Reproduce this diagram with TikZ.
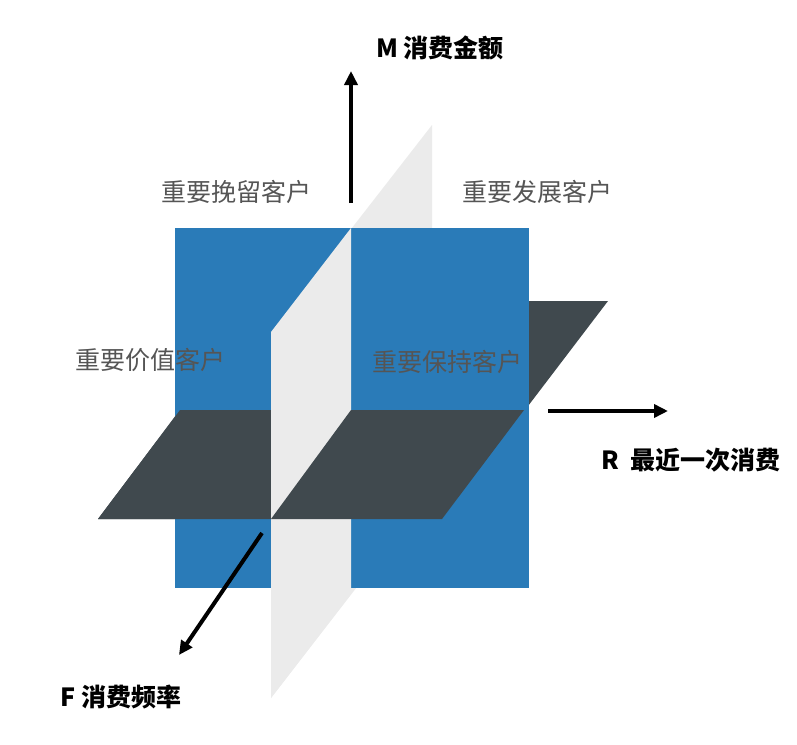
\documentclass[tikz,border=0pt]{standalone}
\usepackage{fontspec}
\setmainfont{Noto Sans CJK SC}
\usepackage{xcolor}
\usetikzlibrary{arrows.meta}

\definecolor{rfmblue}{HTML}{2A7BB8}
\definecolor{rfmdark}{HTML}{40494E}
\definecolor{rfmlight}{HTML}{EBEBEB}
\definecolor{rfmtext}{HTML}{555555}

\begin{document}
\begin{tikzpicture}[x=1pt, y=-1pt,
  axis/.style={-{Triangle[length=14pt,width=13pt]}, line width=4pt},
  axislabel/.style={font=\fontsize{25}{30}\selectfont\bfseries, inner sep=0pt},
  segment/.style={text=rfmtext, font=\fontsize{25}{30}\selectfont, inner sep=0pt},
]
  \useasboundingbox (0,0) rectangle (797,744);

  % planes, back to front
  \fill[rfmlight] (271,332) -- (432,125) -- (432,490) -- (271,698) -- cycle;
  \fill[rfmdark] (98,519) -- (442,519) -- (608,301) -- (262,301) -- cycle;
  \fill[rfmblue] (175,228) rectangle (529,588);
  \fill[rfmdark] (98,519) -- (180,410) -- (351,410) -- (271,519) -- cycle;
  \fill[rfmlight] (271,332) -- (351,228) -- (351,594) -- (271,698) -- cycle;
  \fill[rfmdark] (271,519) -- (351,410) -- (524,410) -- (442,519) -- cycle;

  % axes
  \coordinate (m-start) at (351,203);
  \coordinate (m-end) at (351,71);
  \coordinate (r-start) at (548,411);
  \coordinate (r-end) at (668,411);
  \coordinate (f-start) at (262,533);
  \coordinate (f-end) at (179,655);
  \draw[axis] (m-start) -- (m-end);
  \draw[axis] (r-start) -- (r-end);
  \draw[axis] (f-start) -- (f-end);

  \node[axislabel] (m-label) at (440,48) {M 消费金额};
  \node[axislabel] (r-label) at (691,460) {R\ \ 最近一次消费};
  \node[axislabel] (f-label) at (121,697) {F 消费频率};

  % customer segments
  \node[segment] (retain) at (236,192) {重要挽留客户};
  \node[segment] (develop) at (537,192) {重要发展客户};
  \node[segment] (value) at (150,360) {重要价值客户};
  \node[segment] (keep) at (447,362) {重要保持客户};
\end{tikzpicture}
\end{document}
